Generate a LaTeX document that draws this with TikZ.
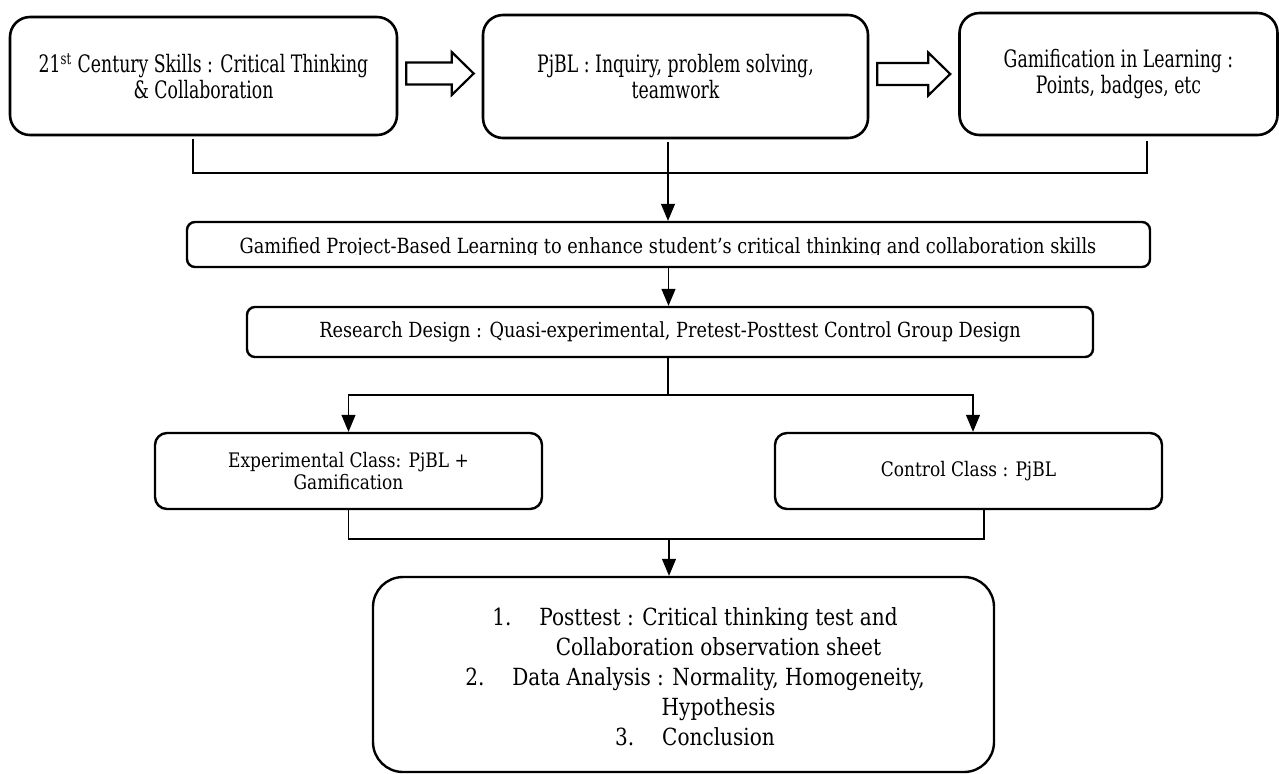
\documentclass[tikz,border=0pt]{standalone}
\usepackage{fontspec}
\setmainfont{DejaVu Serif}[FakeStretch=0.85]
\newfontfamily\tallserif{DejaVu Serif}[FakeStretch=0.72]
\usetikzlibrary{arrows.meta, positioning, calc}

\tikzset{
  topbox/.style={draw, line width=1.3pt, rounded corners=10pt, align=center,
    inner sep=0pt, font=\tallserif\fontsize{12}{11.5}\selectfont},
  stagebox/.style={draw, line width=1.2pt, rounded corners=4pt, inner sep=0pt,
    font=\fontsize{10.4}{11}\selectfont},
  classbox/.style={draw, line width=1.2pt, rounded corners=6pt, align=center,
    inner sep=0pt, font=\fontsize{10}{11}\selectfont},
  endbox/.style={draw, line width=1.2pt, rounded corners=15pt, inner sep=0pt},
  link/.style={line width=0.6pt},
  flow/.style={line width=0.6pt, -{Triangle[length=8.5pt,width=7pt]}},
  hollow/.style={draw, line width=1.1pt, fill=white},
}

% number column of the closing list
\newcommand{\numitem}[1]{\makebox[23.5pt][l]{#1}}
% wide hollow arrow between two boxes
\newcommand{\blockarrow}[2]{%
  \draw[hollow] let \p1=($(#1.east)+(8,-2.5)$), \p2=($(#2.west)+(-8,-2.5)$) in
    (\x1,\y1+5.5pt) -- (\x2-11pt,\y1+5.5pt) -- (\x2-11pt,\y1+10.75pt) -- (\x2,\y1)
    -- (\x2-11pt,\y1-10.75pt) -- (\x2-11pt,\y1-5.5pt) -- (\x1,\y1-5.5pt) -- cycle;}

\begin{document}
\begin{tikzpicture}[x=0.5pt, y=-0.5pt]
  \useasboundingbox (0,0) rectangle (1279,773);

  % top row
  \node[topbox, minimum width=193.5pt, minimum height=59pt] (skills) at (203.5,76)
    {21\textsuperscript{st} Century Skills : Critical Thinking\\ \& Collaboration};
  \node[topbox, minimum width=192.5pt, minimum height=61.5pt] (pjbl) at (675.5,76.5)
    {PjBL : Inquiry, problem solving,\\ teamwork};
  \node[topbox, minimum width=159pt, minimum height=61pt] (gamif) at (1118.5,74)
    {Gamification in Learning :\\ Points, badges, etc};
  \blockarrow{skills}{pjbl}
  \blockarrow{pjbl}{gamif}

  % join of the three ideas
  \coordinate (top-join) at (668,173);
  \draw[link] ([xshift=-5.25pt,yshift=-1.5pt]skills.south) |- (top-join)
    -| ([xshift=14.25pt,yshift=-2.5pt]gamif.south);

  \node[stagebox, minimum width=481.5pt, minimum height=22.5pt] (goal) at (668.5,244.5) {};
  \begin{scope}
    \clip (goal.north west) rectangle (goal.east |- 0,254);
    \node[font=\fontsize{10.45}{11}\selectfont, anchor=base, inner sep=0pt] (goal-text) at (668,253.5)
      {Gamified Project-Based Learning to enhance student’s critical thinking and collaboration skills};
  \end{scope}
  \draw[flow] ($(pjbl.south -| top-join)+(0,3)$) -- (goal.north -| top-join);

  \node[stagebox, minimum width=423pt, minimum height=25pt] (design) at (670,332)
    {Research Design : Quasi-experimental, Pretest-Posttest Control Group Design};
  \draw[flow] (goal.south) -- (goal.south |- design.north);

  % two classes
  \coordinate (split) at (668,395);
  \node[classbox, minimum width=193.5pt, minimum height=38pt] (exp) at (348.5,471)
    {Experimental Class: PjBL +\\ Gamification};
  \node[classbox, minimum width=193.5pt, minimum height=38pt] (ctrl) at (968.5,471)
    {Control Class : PjBL};
  \draw[link] (design.south -| split) -- (split);
  \draw[flow] (split) -| (exp.north);
  \draw[flow] (split) -| ([xshift=2.25pt]ctrl.north);

  \coordinate (bottom-join) at (669,539);
  \draw[link] (exp.south) |- (bottom-join) -| ([xshift=7.75pt]ctrl.south);

  \node[endbox, minimum width=310.5pt, minimum height=97.5pt] (summary) at (683.5,674.5) {};
  \node[align=center, inner sep=0pt, font=\fontsize{11.8}{15}\selectfont] (summary-text) at (695,677)
    {\numitem{1.}Posttest : Critical thinking test and\\
     \numitem{}Collaboration observation sheet\\
     \numitem{2.}Data Analysis : Normality, Homogeneity,\\
     \numitem{}Hypothesis\\
     \numitem{3.}Conclusion};
  \draw[flow] (bottom-join) -- (bottom-join |- summary.north);
\end{tikzpicture}
\end{document}
